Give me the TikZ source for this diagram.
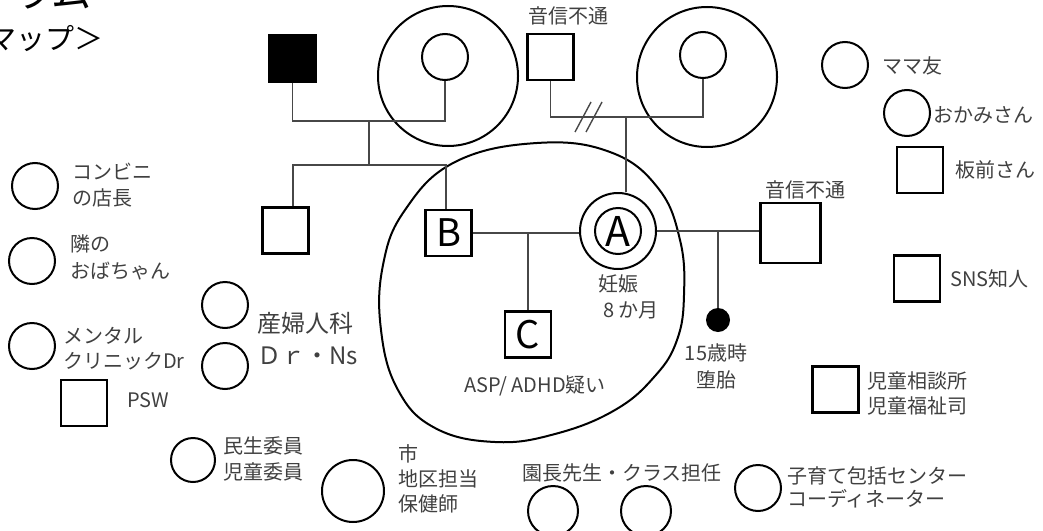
\documentclass[tikz,border=0pt]{standalone}
\usepackage{fontspec}
\setmainfont{Noto Sans CJK JP}
\begin{document}
\begin{tikzpicture}[x=1pt,y=-1pt,
  sq/.style={draw, line width=2.2pt, minimum size=#1, inner sep=0pt},
  sq/.default=46pt,
  circ/.style={draw, circle, line width=2pt, minimum size=#1, inner sep=0pt},
  circ/.default=46pt,
  conn/.style={draw=black!72, line width=1.4pt},
  lbl/.style={font=\fontsize{20}{26}\selectfont, text=black!75, align=left, inner sep=0pt, anchor=west},
  bigletter/.style={font=\fontsize{38}{38}\selectfont}]
\useasboundingbox (0,0) rectangle (1043,530);
% title (cut off at the picture's edge, as in the reference)
\node[font=\fontsize{40}{40}\selectfont, anchor=base east, inner sep=0pt] (t1) at (92,8) {ラム};
\node[font=\fontsize{29}{29}\selectfont, anchor=east, inner sep=0pt] (t2) at (104,39) {マップ＞};
% genogram
\node[sq, fill=black] (gf) at (292.5,58.5) {};
\node[circ] (gm) at (445,57) {};
\node[circ=140pt] (ring1) at (448,76) {};
\node[sq] (u1) at (550.5,57) {};
\node[lbl, anchor=center] (u1l) at (568,16) {音信不通};
\node[circ] (gm2) at (703,55) {};
\node[circ=140pt] (ring2) at (707,77) {};
\node[sq] (us) at (285.5,230.5) {};
\node[sq, bigletter] (B) at (448.5,233) {B};
\node[circ=76pt] (A) at (618,231) {};
\node[circ, font=\fontsize{41}{41}\selectfont] (Ain) at (618,231) {A};
\node[sq, bigletter] (C) at (528,334.5) {C};
\node[sq=60pt] (R) at (790.5,233) {};
\node[lbl, anchor=center] (Rl) at (805,190) {音信不通};
\node[circle, fill=black, minimum size=24pt, inner sep=0pt] (mis) at (718,320) {};
\node[lbl, anchor=center] (misl) at (716,366) {15歳時\\[1pt]\hspace{12pt}堕胎};
\node[lbl] (Al) at (598,297) {妊娠\\\hspace{5pt}8 か月};
\node[lbl, anchor=center] (Cl) at (535,386) {ASP/ ADHD疑い};
% household blob
\draw[line width=2pt] plot[smooth cycle, tension=0.7] coordinates {
  (537,143) (610,152) (658,188) (680,240) (684,295) (677,340) (655,376)
  (615,410) (555,434) (495,442) (435,428) (398,390) (381,330) (383,265)
  (405,210) (455,162)};
% connectors
\coordinate (c1) at (369,121);
\coordinate (s1) at (369,165);
\coordinate (sL) at (293,165);
\coordinate (sR) at (446,165);
\draw[conn] (gf.south) -- (gf.south |- c1) -- (gm.south |- c1) -- (gm.south);
\draw[conn] (c1) -- (s1);
\draw[conn] (us.north -| sL) -- (sL) -- (sR) -- (sR |- B.north);
\coordinate (h1) at (550,117);
\coordinate (d1) at (626,117);
\draw[conn] (u1.south) -- (u1.south |- h1) -- (gm2.south |- h1) -- (gm2.south);
\draw[conn] (d1) -- (d1 |- A.north);
\draw[conn] (575,132) -- (591,102);
\draw[conn] (586,132) -- (602,102);
\draw[conn] (B.east) -- (B.east -| A.west);
\draw[conn] (C.north |- B.east) -- (C.north);
\draw[conn] (A.east) -- (A.east -| R.west);
\coordinate (m2) at (718,232);
\draw[conn] (m2) -- (mis.north);
% right column
\node[circ] (mama) at (845,65) {};
\node[lbl] (mamal) at (882,66) {ママ友};
\node[circ] (okami) at (907,113) {};
\node[lbl] (okamil) at (933,115) {おかみさん};
\node[sq] (ita) at (920,170) {};
\node[lbl] (ital) at (955,170) {板前さん};
\node[sq] (sns) at (917,278.5) {};
\node[lbl] (snsl) at (950,279) {SNS知人};
\node[sq] (jido) at (835.5,389.5) {};
\node[lbl, font=\fontsize{20}{25}\selectfont] (jidol) at (867,393.5) {児童相談所\\児童福祉司};
% left column
\node[circ] (konbini) at (35,186) {};
\node[lbl] (konbinil) at (72,185) {コンビニ\\の店長};
\node[circ] (tonari) at (32,261) {};
\node[lbl, font=\fontsize{20}{27}\selectfont] (tonaril) at (70,257.5) {隣の\\おばちゃん};
\node[circ] (ment) at (32,346) {};
\node[lbl, font=\fontsize{20}{25}\selectfont] (mentl) at (63,348.5) {メンタル\\クリニックDr};
\node[sq] (psw) at (84,403) {};
\node[lbl] (pswl) at (127,400) {PSW};
\node[circ] (san1) at (225,305) {};
\node[circ] (san2) at (225,366) {};
\node[lbl, font=\fontsize{24}{32}\selectfont] (sanl) at (257,339) {産婦人科\\Ｄｒ・Ns};
\node[circ=44pt] (minsei) at (193,460) {};
\node[lbl] (minseil) at (223,459) {民生委員\\児童委員};
\node[circ=62pt] (hoken) at (353,491) {};
\node[lbl, font=\fontsize{20}{25}\selectfont] (hokenl) at (398,478.5) {市\\地区担当\\保健師};
\node[circ=50pt] (en1) at (553,511) {};
\node[circ=50pt] (en2) at (646,511) {};
\node[lbl, anchor=center] (enl) at (622,473) {園長先生・クラス担任};
\node[circ] (kosodate) at (758,488) {};
\node[lbl, font=\fontsize{20}{23}\selectfont] (kosodatel) at (787,487.5) {子育て包括センター\\コーディネーター};
\end{tikzpicture}
\end{document}
